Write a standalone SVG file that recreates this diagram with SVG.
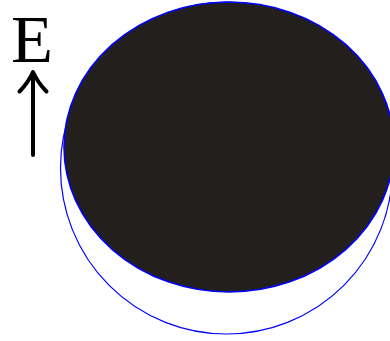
<svg xmlns="http://www.w3.org/2000/svg" width="390" height="341" viewBox="0 0 390 341">
<style>
.outline{fill:none;stroke:#0000ff;stroke-width:1.2}
.disc{fill:#231f1c;stroke:#0000ff;stroke-width:1.6}
.arrow{fill:none;stroke:#000;stroke-width:4;stroke-linecap:round;stroke-linejoin:round}
.lbl{font-family:"Liberation Serif","DejaVu Serif",serif;font-size:68px;fill:#000}
</style>
<rect width="390" height="341" fill="#fff"/>
<g id="outer-circle">
<circle class="outline" cx="226.5" cy="168" r="166"/>
</g>
<g id="disc">
<ellipse class="disc" cx="229" cy="147" rx="165" ry="145"/>
</g>
<g id="direction">
<text class="lbl" x="11" y="62" textLength="42" lengthAdjust="spacingAndGlyphs">E</text>
<path class="arrow" d="M33 155 L33 73"/>
<path class="arrow" d="M19.5 91.5 Q28 83 33 72 Q38 83 46.5 91.5" stroke-width="3.5"/>
</g>
</svg>
